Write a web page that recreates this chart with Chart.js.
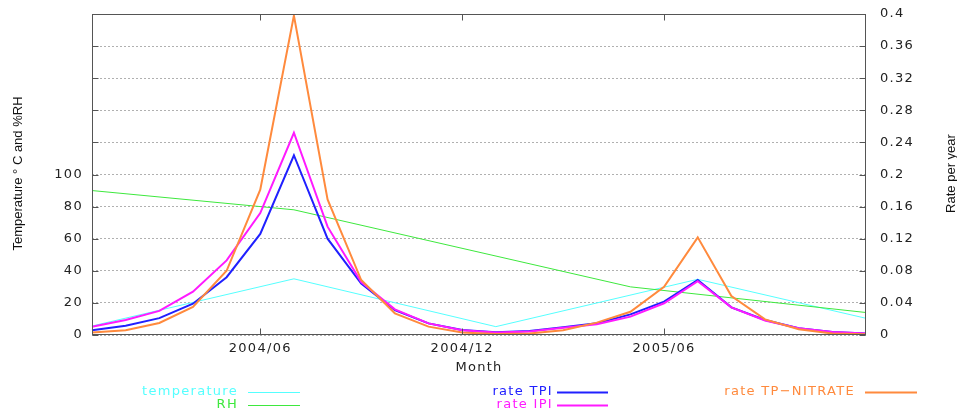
<!DOCTYPE html>
<html>
<head>
<meta charset="utf-8">
<script src="https://cdn.jsdelivr.net/npm/chart.js@4.4.1/dist/chart.umd.min.js"></script>
<style>
    html, body { margin: 0; padding: 0; background: #fff; }
    #wrap { width: 957px; height: 412px; position: relative; }
</style>
</head>
<body>
<div id="wrap"><canvas id="rateChart"></canvas></div>
<script>
// monthly categories, Jan 2004 .. Dec 2005
const months = ['2004/01', '2004/02', '2004/03', '2004/04', '2004/05', '2004/06',
                '2004/07', '2004/08', '2004/09', '2004/10', '2004/11', '2004/12',
                '2005/01', '2005/02', '2005/03', '2005/04', '2005/05', '2005/06',
                '2005/07', '2005/08', '2005/09', '2005/10', '2005/11', '2005/12'];
const xTickLabels = ['2004/06', '2004/12', '2005/06'];

// left axis (deg C / %RH), only measured months, the rest left empty
const temperature = [5.6, null, null, null, null, null, 35, null, null, null, null, null,
                     5.2, null, null, null, null, null, 34.7, null, null, null, null, 10.4];
const rh = [90, null, null, null, null, null, 78, null, null, null, null, null,
            null, null, null, null, 30, null, null, null, null, null, null, 14];

// right axis (rate per year)
const rateTPI = [0.006, 0.0116, 0.021, 0.039, 0.072, 0.126, 0.224, 0.120, 0.064, 0.031, 0.0145, 0.0062,
                 0.0033, 0.005, 0.0096, 0.0145, 0.0257, 0.0415, 0.0685, 0.0345, 0.0187, 0.0083, 0.0037, 0.002];
const rateIPI = [0.0103, 0.0187, 0.030, 0.054, 0.093, 0.152, 0.252, 0.135, 0.066, 0.032, 0.0145, 0.006,
                 0.003, 0.0045, 0.009, 0.0135, 0.0229, 0.0395, 0.067, 0.0345, 0.018, 0.0083, 0.0037, 0.002];
const rateTPNitrate = [0.003, 0.006, 0.015, 0.035, 0.080, 0.181, 0.398, 0.169, 0.0685, 0.027, 0.0104, 0.003,
                       0.0012, 0.002, 0.006, 0.0154, 0.029, 0.060, 0.1217, 0.0486, 0.0195, 0.0071, 0.002, 0.001];

const leftLabelMax = 100;   // left axis only labelled up to 100

const tickFont = { family: '"DejaVu Sans", sans-serif', size: 13 };

// fixed box sizes so the plot frame lands where the original has it
function fixBox(size) {
    return scale => {
        if (scale.isHorizontal()) scale.height = size; else scale.width = size;
        scale.paddingTop = 0;
        scale.paddingBottom = 0;
        scale.paddingLeft = 0;
        scale.paddingRight = 0;
    };
}

// gnuplot-ish frame, inward tick marks, rotated titles and key
const gnuplotLook = {
    id: 'gnuplotLook',
    beforeDraw(chart) {
        chart.ctx.letterSpacing = '1.3px';
    },
    afterDraw(chart, args, opts) {
        const { ctx, chartArea: a, scales } = chart;
        const L = Math.round(a.left) + 0.5, R = Math.round(a.right) - 0.5;
        const T = Math.round(a.top) + 0.5, B = Math.round(a.bottom) - 0.5;
        ctx.save();
        ctx.strokeStyle = '#555';
        ctx.lineWidth = 1;
        ctx.setLineDash([]);
        ctx.strokeRect(L, T, R - L, B - T);

        const seg = (x1, y1, x2, y2) => {
            ctx.beginPath(); ctx.moveTo(x1, y1); ctx.lineTo(x2, y2); ctx.stroke();
        };
        const yR = scales.yR;
        yR.ticks.forEach((t, i) => {
            const y = Math.round(yR.getPixelForTick(i)) + 0.5;
            seg(L, y, L + 6, y);
            seg(R - 6, y, R, y);
        });
        const x = scales.x;
        x.ticks.forEach((t, i) => {
            if (!xTickLabels.includes(months[t.value])) return;
            const px = Math.round(x.getPixelForTick(i)) + 0.5;
            seg(px, B, px, B - 6);
            seg(px, T, px, T + 6);
        });

        // axis titles, both reading upwards
        ctx.letterSpacing = '0px';
        ctx.fillStyle = '#111';
        ctx.font = '13px "Liberation Sans", sans-serif';
        ctx.textAlign = 'center';
        ctx.textBaseline = 'middle';
        const midY = (a.top + a.bottom) / 2 - 1;
        [[opts.leftTitleX, chart.options.scales.yT.title.text],
         [opts.rightTitleX, chart.options.scales.yR.title.text]].forEach(([tx, text]) => {
            ctx.save();
            ctx.translate(tx, midY);
            ctx.rotate(-Math.PI / 2);
            ctx.fillText(text, 0, 0);
            ctx.restore();
        });

        // key
        ctx.letterSpacing = '1.3px';
        ctx.font = '13px "DejaVu Sans", sans-serif';
        ctx.textAlign = 'right';
        opts.slots.forEach(s => {
            const ds = chart.data.datasets[s.ds];
            ctx.fillStyle = ds.borderColor;
            ctx.fillText(ds.label, s.tx, s.y);
            ctx.strokeStyle = ds.borderColor;
            ctx.lineWidth = ds.borderWidth > 1 ? 1.8 : 1;
            seg(s.l1, s.y + 0.5, s.l2, s.y + 0.5);
        });
        ctx.restore();
    }
};

const ctx = document.getElementById('rateChart').getContext('2d');

new Chart(ctx, {
    type: 'line',
    data: {
        labels: months,
        datasets: [
            { label: 'temperature', data: temperature, yAxisID: 'yT', borderColor: '#55ffff', borderWidth: 1, spanGaps: true, order: 5 },
            { label: 'RH', data: rh, yAxisID: 'yT', borderColor: '#3ee83e', borderWidth: 1, spanGaps: true, order: 4 },
            { label: 'rate TPI', data: rateTPI, yAxisID: 'yR', borderColor: '#2020ff', borderWidth: 2, order: 3 },
            { label: 'rate IPI', data: rateIPI, yAxisID: 'yR', borderColor: '#ff1aff', borderWidth: 2, order: 2 },
            { label: 'rate TP\u2212NITRATE', data: rateTPNitrate, yAxisID: 'yR', borderColor: '#ff8a3d', borderWidth: 2, order: 1 }
        ]
    },
    options: {
        responsive: true,
        maintainAspectRatio: false,
        animation: false,
        layout: { padding: { left: 0, right: 0, top: 14, bottom: 37 } },
        elements: { point: { radius: 0 }, line: { tension: 0 } },
        plugins: {
            legend: { display: false },
            tooltip: { enabled: false },
            gnuplotLook: {
                leftTitleX: 18,
                rightTitleX: 951,
                slots: [
                    { ds: 0, tx: 238, y: 392, l1: 248, l2: 300 },
                    { ds: 1, tx: 238, y: 405, l1: 248, l2: 300 },
                    { ds: 2, tx: 553, y: 392, l1: 557, l2: 608 },
                    { ds: 3, tx: 553, y: 405, l1: 557, l2: 608 },
                    { ds: 4, tx: 855, y: 392, l1: 865, l2: 917 }
                ]
            }
        },
        scales: {
            x: {
                type: 'category',
                offset: false,
                grid: { display: false, drawTicks: false },
                border: { display: false },
                ticks: {
                    autoSkip: false,
                    maxRotation: 0,
                    padding: 6,
                    color: '#222',
                    font: tickFont,
                    callback: function (value) {
                        const m = months[value];
                        return xTickLabels.includes(m) ? m : '';
                    }
                },
                title: { display: true, text: 'Month', color: '#222', font: tickFont, padding: { top: 0, bottom: 0 } },
                afterFit: fixBox(40)
            },
            yT: {
                position: 'left',
                min: 0,
                max: 200,
                grid: { color: '#b0b0b0', lineWidth: 1, drawTicks: false },
                border: { display: false, dash: [2, 2] },
                ticks: {
                    stepSize: 20,
                    padding: 9,
                    color: '#222',
                    font: tickFont,
                    callback: v => (v <= leftLabelMax ? v : '')
                },
                title: { display: false, text: 'Temperature \u00b0 C and %RH' },
                afterFit: fixBox(92)
            },
            yR: {
                position: 'right',
                min: 0,
                max: 0.4,
                grid: { display: false, drawTicks: false },
                border: { display: false },
                ticks: {
                    stepSize: 0.04,
                    padding: 14,
                    color: '#222',
                    font: tickFont,
                    callback: v => String(+v.toFixed(2))
                },
                title: { display: false, text: 'Rate per year' },
                afterFit: fixBox(91)
            }
        }
    },
    plugins: [gnuplotLook]
});
</script>
</body>
</html>
